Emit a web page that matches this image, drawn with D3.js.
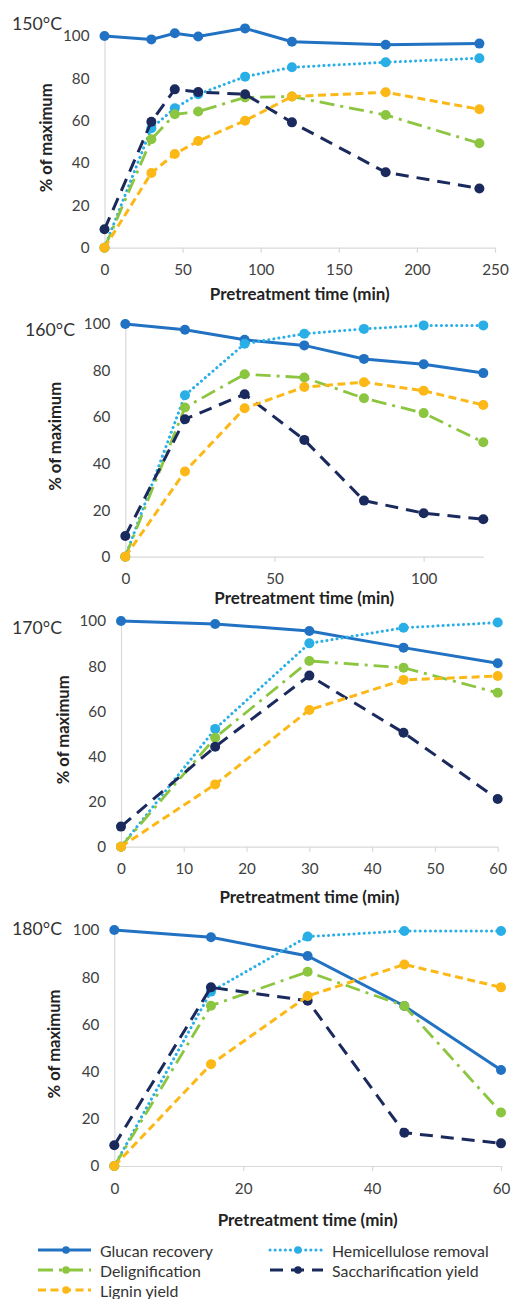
<!DOCTYPE html>
<html><head><meta charset="utf-8">
<script src="https://cdn.jsdelivr.net/npm/d3@7"></script>
<style>
html,body{margin:0;padding:0;background:#fff;}
svg{display:block;font-family:Lato,"Open Sans",sans-serif;}
</style></head>
<body>
<svg id="chart" width="512" height="1299"></svg>
<script>
// ---------- DATA ----------
const seriesNames = ["Glucan recovery","Hemicellulose removal","Delignification","Saccharification yield","Lignin yield"];
const temperatures = ["150°C","160°C","170°C","180°C"];
const xTitle = "Pretreatment time (min)";
const yTitle = "% of maximum";

const times150 = [0,30,45,60,90,120,180,240];
const glucan150 = [100,98.4,101.3,99.8,103.6,97.3,95.9,96.4];
const hemi150 = [0,56.4,65.9,72.5,80.8,85.2,87.6,89.5];
const delig150 = [0,51.2,63,64.3,71,71.4,62.7,49.3];
const sacch150 = [8.7,59.5,74.8,73.5,72.5,59.2,35.6,28];
const lignin150 = [0,35.3,44.3,50.4,60,71.4,73.4,65.4];
const xTicks150 = [0,50,100,150,200,250];

const times160 = [0,20,40,60,80,100,120];
const glucan160 = [100,97.5,93.2,90.8,85,82.7,78.9];
const hemi160 = [0,69.4,91.5,95.8,97.9,99.4,99.4];
const delig160 = [0,64.1,78.4,77,68.1,61.7,49.2];
const sacch160 = [8.9,59.1,69.8,50.2,24.1,18.7,16.1];
const lignin160 = [0,36.6,63.8,72.9,75,71.3,65.2];
const xTicks160 = [0,50,100];

const times170 = [0,15,30,45,60];
const glucan170 = [100,98.7,95.6,88.2,81.3];
const hemi170 = [0,52.2,90.1,97,99.3];
const delig170 = [0,48.3,82.3,79.3,68.2];
const sacch170 = [8.9,44.3,75.8,50.5,21.1];
const lignin170 = [0,27.6,60.6,73.9,75.6];
const xTicks170 = [0,10,20,30,40,50,60];

const times180 = [0,15,30,45,60];
const glucan180 = [100,96.9,89,67.8,40.7];
const hemi180 = [0,73.9,97.2,99.6,99.6];
const delig180 = [0,67.9,82.3,67.8,22.7];
const sacch180 = [8.8,75.7,70,14.1,9.6];
const lignin180 = [0,43.1,72,85.4,75.7];
const xTicks180 = [0,20,40,60];

const yTicks = [0,20,40,60,80,100];

// ---------- STYLES ----------
const styles = {
  "Glucan recovery":      {color:"#2272c3", dash:null, width:3, cap:"butt"},
  "Hemicellulose removal":{color:"#2aaee6", dash:"0.1,5", width:3, cap:"round"},
  "Delignification":      {color:"#8cc540", dash:"15,6,3,6", width:2.8, cap:"butt"},
  "Saccharification yield":{color:"#1b2a5c", dash:"13,8", width:3, cap:"butt"},
  "Lignin yield":         {color:"#fbb817", dash:"8,4.5", width:3, cap:"butt"}
};

const svg = d3.select("#chart");

// font sizes fitted so text widths match the reference
function fit(str, weight, target){
  const t = svg.append("text").attr("font-size",20).attr("font-weight",weight).text(str);
  const w = t.node().getComputedTextLength();
  t.remove();
  return w > 0 ? 20*target/w : 15;
}
const fsTick = fit("100","normal",26.5);
const fsXTitle = fit(xTitle,"bold",180);
const fsYTitle = fit(yTitle,"bold",109);
const fsTemp = fit("150°C","normal",50);
const fsLegend = fit("Glucan recovery","normal",113);

// ---------- LAYOUT ----------
const panels = [
  {temp:temperatures[0], t:times150, s:[glucan150,hemi150,delig150,sacch150,lignin150], xt:xTicks150, xmax:250,
   x0:104.5, x1:495, y0:247.7, y1:36, tx:12, ty:23, yl:46, titleY:293},
  {temp:temperatures[1], t:times160, s:[glucan160,hemi160,delig160,sacch160,lignin160], xt:xTicks160, xmax:120,
   x0:125.3, x1:483.3, y0:556.7, y1:324, tx:25, ty:329, yl:55, titleY:597},
  {temp:temperatures[2], t:times170, s:[glucan170,hemi170,delig170,sacch170,lignin170], xt:xTicks170, xmax:60,
   x0:121, x1:497.7, y0:846.7, y1:621, tx:12, ty:627, yl:63, titleY:896},
  {temp:temperatures[3], t:times180, s:[glucan180,hemi180,delig180,sacch180,lignin180], xt:xTicks180, xmax:60,
   x0:114.3, x1:501, y0:1166, y1:930, tx:12, ty:928, yl:54, titleY:1219}
];

panels.forEach(p => {
  const x = d3.scaleLinear().domain([0,p.xmax]).range([p.x0,p.x1]);
  const y = d3.scaleLinear().domain([0,100]).range([p.y0,p.y1]);
  const g = svg.append("g");

  const xa = g.append("g").attr("transform",`translate(0,${p.y0})`)
    .call(d3.axisBottom(x).tickValues(p.xt).tickSize(5).tickPadding(10).tickSizeOuter(0));
  xa.selectAll(".domain").attr("stroke","#d9d9d9").attr("stroke-width",1.2);
  xa.selectAll(".tick line").attr("stroke","#d9d9d9").attr("stroke-width",1.2);
  xa.selectAll(".tick text").attr("fill","#404040").attr("dy",null).attr("y",21.5)
    .attr("dominant-baseline","central")
    .style("font-size",fsTick+"px").style("font-family","Lato, sans-serif");

  const ya = g.append("g").attr("transform",`translate(${p.x0},0)`)
    .call(d3.axisLeft(y).tickValues(yTicks).tickSize(0).tickPadding(15));
  ya.selectAll(".domain").attr("stroke","#d9d9d9").attr("stroke-width",1.2);
  ya.selectAll(".tick text").attr("fill","#404040").style("font-size",fsTick+"px").style("font-family","Lato, sans-serif");

  g.append("text").attr("x",(p.x0+p.x1)/2).attr("y",p.titleY)
    .attr("text-anchor","middle").attr("dominant-baseline","central")
    .attr("font-weight","bold").attr("font-size",fsXTitle).attr("fill","#222")
    .text(xTitle);
  g.append("text").attr("transform",`translate(${p.yl},${(p.y0+p.y1)/2 - 4}) rotate(-90)`)
    .attr("text-anchor","middle").attr("dominant-baseline","central").attr("font-weight","bold")
    .attr("font-size",fsYTitle).attr("fill","#222")
    .text(yTitle);
  g.append("text").attr("x",p.tx).attr("y",p.ty).attr("dominant-baseline","central")
    .attr("font-size",fsTemp).attr("fill","#333").text(p.temp);

  const line = d3.line().x(d=>x(d[0])).y(d=>y(d[1]));
  seriesNames.forEach((name,i) => {
    const st = styles[name];
    const pts = p.t.map((tv,j)=>[tv,p.s[i][j]]);
    g.append("path").datum(pts).attr("d",line).attr("fill","none")
      .attr("stroke",st.color).attr("stroke-width",st.width)
      .attr("stroke-dasharray",st.dash).attr("stroke-linecap",st.cap);
    g.selectAll(null).data(pts).enter().append("circle")
      .attr("cx",d=>x(d[0])).attr("cy",d=>y(d[1])).attr("r",5)
      .attr("fill",st.color);
  });
});

// ---------- LEGEND ----------
const legendItems = [
  {name:"Glucan recovery", lx:38, ly:1250},
  {name:"Hemicellulose removal", lx:270, ly:1250},
  {name:"Delignification", lx:38, ly:1270},
  {name:"Saccharification yield", lx:270, ly:1270},
  {name:"Lignin yield", lx:38, ly:1290}
];
const lg = svg.append("g");
legendItems.forEach(it => {
  const st = styles[it.name];
  lg.append("line").attr("x1",it.lx).attr("x2",it.lx+53).attr("y1",it.ly).attr("y2",it.ly)
    .attr("stroke",st.color).attr("stroke-width",st.width).attr("stroke-dasharray",st.dash).attr("stroke-linecap",st.cap);
  lg.append("circle").attr("cx",it.lx+28).attr("cy",it.ly).attr("r",3.8).attr("fill",st.color);
  lg.append("text").attr("x",it.lx+62).attr("y",it.ly).attr("dominant-baseline","central")
    .attr("font-size",fsLegend).attr("fill","#333").text(it.name);
});
</script>
</body></html>
